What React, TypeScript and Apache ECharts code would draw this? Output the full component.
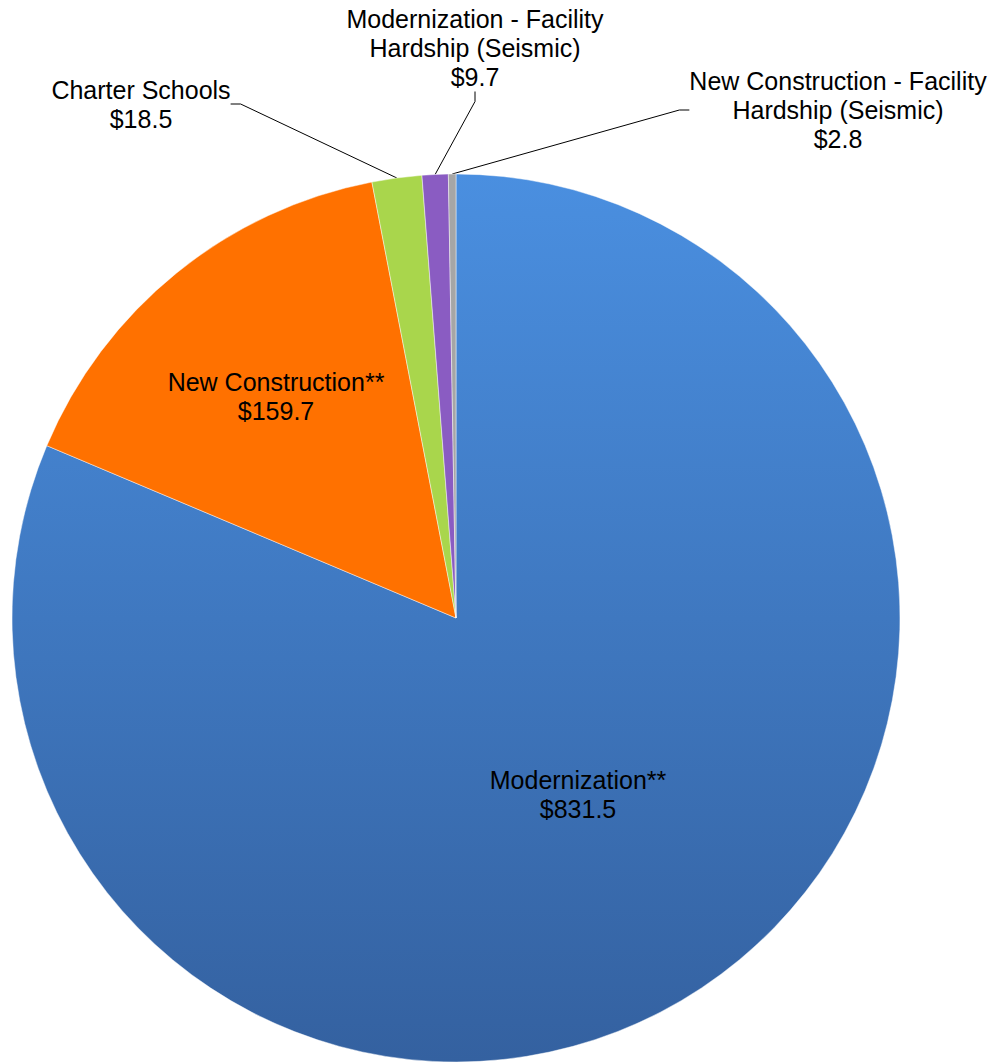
import React, { useEffect, useRef } from "react";
import * as echarts from "echarts";

const categories = [
  "Modernization**",
  "New Construction**",
  "Charter Schools",
  "Modernization - Facility\nHardship (Seismic)",
  "New Construction - Facility\nHardship (Seismic)",
];
const values = [831.5, 159.7, 18.5, 9.7, 2.8];
const labelCenters: [number, number][] = [
  [578, 794],
  [276, 396],
  [141, 104],
  [475, 48],
  [838, 110],
];

export default function App() {
  const ref = useRef<HTMLDivElement>(null);
  useEffect(() => {
    if (!ref.current) return;
    const chart = echarts.init(ref.current, null, { renderer: "svg" });
    const blue = new echarts.graphic.LinearGradient(0, 0, 0, 1, [
      { offset: 0, color: "#4a8fe0" },
      { offset: 1, color: "#3461a0" },
    ]);
    const colors: any[] = [blue, "#ff7100", "#a9d64c", "#8a5cc2", "#a6a6a6"];
    const outside = [false, false, true, true, true];
    chart.setOption({
      animation: false,
      series: [
        {
          type: "pie",
          center: [456, 618],
          radius: 444,
          startAngle: 90,
          clockwise: true,
          avoidLabelOverlap: false,
          itemStyle: {
            borderColor: "rgba(255,255,255,0.45)",
            borderWidth: 1,
          },
          label: {
            fontFamily: "Liberation Sans, Arial, sans-serif",
            fontSize: 25,
            lineHeight: 29,
            color: "#000",
            align: "center",
            formatter: (p: any) => `${p.name}\n$${p.value.toFixed(1)}`,
          },
          labelLine: {
            lineStyle: { color: "#000", width: 1 },
            length: 20,
            length2: 10,
          },
          labelLayout: (p: any) => {
            const c = labelCenters[p.dataIndex];
            return { x: c[0], y: c[1], align: "center", verticalAlign: "middle" };
          },
          data: categories.map((name, i) => ({
            name,
            value: values[i],
            itemStyle: { color: colors[i] },
            label: { position: outside[i] ? "outside" : "inside" },
            labelLine: { show: outside[i] },
          })),
        },
      ],
    });
    return () => chart.dispose();
  }, []);
  return (
    <div
      ref={ref}
      style={{ position: "absolute", left: 0, top: 0, width: 993, height: 1064 }}
    />
  );
}
